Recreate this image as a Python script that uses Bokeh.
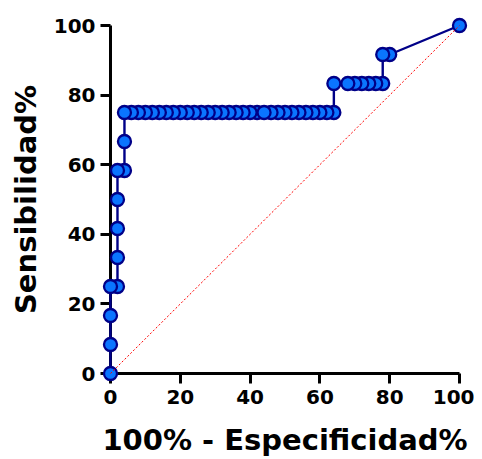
from bokeh.plotting import figure
from bokeh.models import Range1d, FixedTicker, ColumnDataSource
from bokeh.embed import file_html
from bokeh.resources import INLINE

# ROC points: 100% - Especificidad% (x) and Sensibilidad% (y)
x_spec = [0, 0, 0, 0,
          2, 2, 2, 2, 2,
          4, 4, 4,
          6, 8, 10, 12, 14, 16, 18, 20, 22, 24, 26, 28, 30, 32, 34, 36, 38, 40, 42,
          44, 46, 48, 50, 52, 54, 56, 58, 60, 62, 64,
          64, 68, 70, 72, 74, 76, 78,
          78, 80,
          100]
y_sens = [0, 8.33, 16.67, 25,
          25, 33.33, 41.67, 50, 58.33,
          58.33, 66.67, 75,
          75, 75, 75, 75, 75, 75, 75, 75, 75, 75, 75, 75, 75, 75, 75, 75, 75, 75, 75,
          75, 75, 75, 75, 75, 75, 75, 75, 75, 75, 75,
          83.33, 83.33, 83.33, 83.33, 83.33, 83.33, 83.33,
          91.67, 91.67,
          100]
ref_x = [0, 100]
ref_y = [0, 100]
ticks = [0, 20, 40, 60, 80, 100]

FILL = "#0A75FF"
NAVY = "#000088"
FONT = "DejaVu Sans"

p = figure(width=474, height=459, output_backend="svg", toolbar_location=None,
           x_range=Range1d(0, 100), y_range=Range1d(0, 100),
           min_border_left=110, min_border_right=15, min_border_top=25, min_border_bottom=86)
p.outline_line_color = None
p.xgrid.visible = False
p.ygrid.visible = False
p.background_fill_color = "white"
p.border_fill_color = "white"

for ax in (p.xaxis[0], p.yaxis[0]):
    ax.ticker = FixedTicker(ticks=ticks)
    ax.axis_line_width = 3
    ax.major_tick_line_width = 3
    ax.major_tick_out = 10
    ax.major_tick_in = 0
    ax.minor_tick_line_color = None
    ax.major_label_text_font = FONT
    ax.major_label_text_font_style = "bold"
    ax.major_label_text_font_size = "20px"
    ax.major_label_text_color = "black"
    ax.axis_label_text_font = FONT
    ax.axis_label_text_font_style = "bold"
    ax.axis_label_text_font_size = "29px"
    ax.axis_label_text_color = "black"

p.xaxis.axis_label = "100% - Especificidad%"
p.yaxis.axis_label = "Sensibilidad%"
p.xaxis.major_label_standoff = 6
p.xaxis.axis_label_standoff = 16
p.yaxis.major_label_standoff = 5
p.yaxis.axis_label_standoff = 8

# connecting line
p.line(x_spec, y_sens, line_color=NAVY, line_width=2.4, level="overlay")

# points: drawn right-to-left inside two groups so the left circle sits on top
split = 31
for lo, hi in ((0, split), (split, len(x_spec))):
    idx = list(range(lo, hi))[::-1]
    src = ColumnDataSource(dict(x=[x_spec[i] for i in idx], y=[y_sens[i] for i in idx]))
    p.scatter("x", "y", source=src, size=13, marker="circle", fill_color=FILL,
              line_color=NAVY, line_width=2.3, level="overlay")

# reference diagonal
p.line(ref_x, ref_y, line_color="red", line_width=1, line_dash="2 2", level="overlay")

open("out.html", "w").write(file_html(p, INLINE))
